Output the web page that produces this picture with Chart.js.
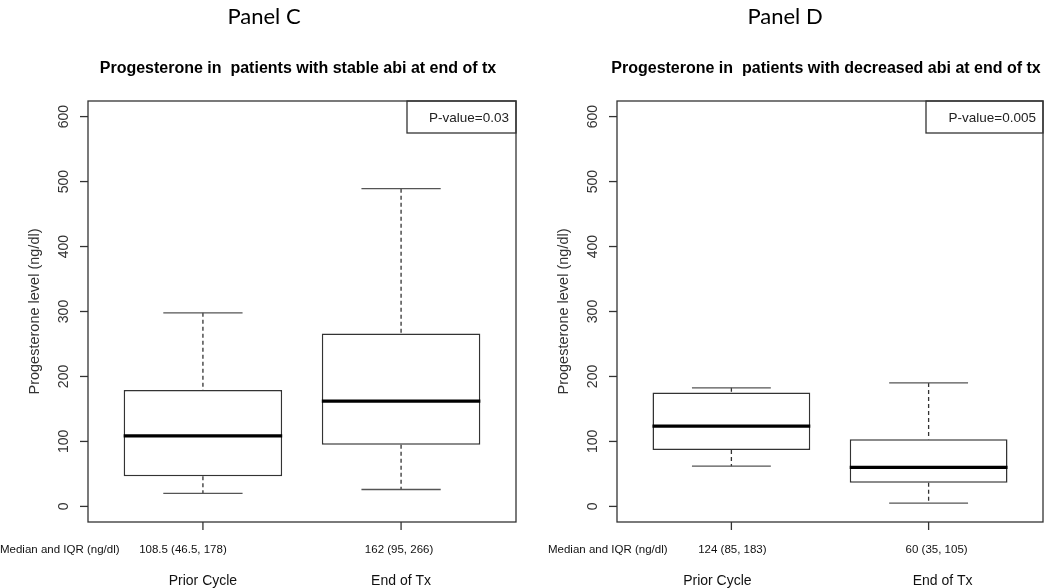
<!DOCTYPE html>
<html>
<head>
<meta charset="utf-8">
<script src="https://cdn.jsdelivr.net/npm/chart.js@4.4.1/dist/chart.umd.min.js"></script>
<style>
  html, body { margin: 0; padding: 0; background: #fff; }
  #wrap { position: relative; width: 1050px; height: 588px; overflow: hidden; }
  canvas { position: absolute; top: 0; }
  #chartC { left: 0; }
  #chartD { left: 525px; }
</style>
</head>
<body>
<div id="wrap">
  <canvas id="chartC" width="525" height="588"></canvas>
  <canvas id="chartD" width="525" height="588"></canvas>
</div>
<script>
  // categories and ticks
  const groups = ['Prior Cycle', 'End of Tx'];
  const yTicks = [0, 100, 200, 300, 400, 500, 600];

  // Panel C - stable abi
  const stableLow = [20, 26];
  const stableQ1 = [46.5, 95];
  const stableMedian = [108.5, 162];
  const stableQ3 = [179, 266];
  const stableHigh = [298, 489];
  const stableLabels = ['108.5 (46.5, 178)', '162 (95, 266)'];

  // Panel D - decreased abi
  const decLow = [62, 5];
  const decQ1 = [87, 36.5];
  const decMedian = [123.5, 60];
  const decQ3 = [175.5, 103.5];
  const decHigh = [182.5, 190];
  const decLabels = ['124 (85, 183)', '60 (35, 105)'];

  const FONT = '"Liberation Sans", Arial, sans-serif';
  const LINE = '#333';

  // draws whiskers, medians, frame, axes and texts the R way
  const rBoxplot = {
    id: 'rBoxplot',
    afterDatasetsDraw(chart, args, o) {
      const {ctx, chartArea: a, scales: {x, y}} = chart;
      ctx.save();

      // whiskers
      groups.forEach((g, i) => {
        const cx = x.getPixelForValue(i + 1);
        const capL = x.getPixelForValue(i + 1 - 0.2);
        const capR = x.getPixelForValue(i + 1 + 0.2);
        ctx.strokeStyle = LINE;
        ctx.lineWidth = 1.3;
        ctx.setLineDash([4, 3]);
        ctx.beginPath();
        ctx.moveTo(cx, y.getPixelForValue(o.high[i]));
        ctx.lineTo(cx, y.getPixelForValue(o.q3[i]));
        ctx.moveTo(cx, y.getPixelForValue(o.q1[i]));
        ctx.lineTo(cx, y.getPixelForValue(o.low[i]));
        ctx.stroke();
        ctx.setLineDash([]);
        ctx.strokeStyle = '#555';
        ctx.beginPath();
        ctx.moveTo(capL, y.getPixelForValue(o.high[i]));
        ctx.lineTo(capR, y.getPixelForValue(o.high[i]));
        ctx.moveTo(capL, y.getPixelForValue(o.low[i]));
        ctx.lineTo(capR, y.getPixelForValue(o.low[i]));
        ctx.stroke();
      });

      // medians
      groups.forEach((g, i) => {
        ctx.strokeStyle = '#000';
        ctx.lineWidth = 3.2;
        ctx.beginPath();
        ctx.moveTo(x.getPixelForValue(i + 1 - 0.4), y.getPixelForValue(o.median[i]));
        ctx.lineTo(x.getPixelForValue(i + 1 + 0.4), y.getPixelForValue(o.median[i]));
        ctx.stroke();
      });

      // frame
      ctx.strokeStyle = LINE;
      ctx.lineWidth = 1.3;
      ctx.strokeRect(a.left, a.top, a.width, a.height);

      // p-value box
      ctx.strokeRect(a.right - o.pWidth, a.top, o.pWidth, 32);
      ctx.fillStyle = '#222';
      ctx.font = '13.5px ' + FONT;
      ctx.textAlign = 'right';
      ctx.textBaseline = 'middle';
      ctx.fillText(o.pText, a.right - 7, a.top + 17);

      // y axis ticks and rotated labels
      ctx.strokeStyle = LINE;
      yTicks.forEach(v => {
        const py = y.getPixelForValue(v);
        ctx.beginPath();
        ctx.moveTo(a.left - 8, py);
        ctx.lineTo(a.left, py);
        ctx.stroke();
        ctx.save();
        ctx.translate(a.left - 24, py);
        ctx.rotate(-Math.PI / 2);
        ctx.textAlign = 'center';
        ctx.textBaseline = 'middle';
        ctx.fillStyle = '#333';
        ctx.font = '14px ' + FONT;
        ctx.fillText(String(v), 0, 0);
        ctx.restore();
      });

      // y axis title
      ctx.save();
      ctx.translate(a.left - 53, (a.top + a.bottom) / 2);
      ctx.rotate(-Math.PI / 2);
      ctx.textAlign = 'center';
      ctx.textBaseline = 'middle';
      ctx.fillStyle = '#333';
      ctx.font = '14.5px ' + FONT;
      ctx.fillText('Progesterone level (ng/dl)', 0, 0);
      ctx.restore();

      // x ticks, median/IQR row, group names
      ctx.textBaseline = 'middle';
      ctx.fillStyle = '#111';
      ctx.font = '11.5px ' + FONT;
      ctx.textAlign = 'left';
      ctx.fillText('Median and IQR (ng/dl)', a.left - o.medX, 550);
      groups.forEach((g, i) => {
        const cx = x.getPixelForValue(i + 1);
        ctx.beginPath();
        ctx.moveTo(cx, a.bottom);
        ctx.lineTo(cx, a.bottom + 8);
        ctx.stroke();
        ctx.textAlign = 'center';
        ctx.font = '11.5px ' + FONT;
        ctx.fillText(o.labels[i], cx + o.labelShift[i], 550);
        ctx.font = '14px ' + FONT;
        ctx.fillText(g, cx + o.groupShift[i], 581);
      });

      // chart title and panel name
      ctx.textAlign = 'center';
      ctx.fillStyle = '#000';
      ctx.font = 'bold 16px ' + FONT;
      ctx.fillText(o.title, (a.left + a.right) / 2 - 4, 69);
      ctx.font = '22px Lato, "Open Sans", sans-serif';
      ctx.fillText(o.panel, o.panelX, 17);

      ctx.restore();
    }
  };

  function makeChart(id, low, q1, median, q3, high, labels, extra, pad) {
    return new Chart(document.getElementById(id), {
      type: 'bar',
      data: {
        datasets: [{
          data: groups.map((g, i) => ({x: i + 1, y: [q1[i], q3[i]]})),
          backgroundColor: '#fff',
          borderColor: LINE,
          borderWidth: 1.5,
          borderSkipped: false,
          categoryPercentage: 1,
          barPercentage: 0.8
        }]
      },
      options: {
        responsive: false,
        animation: false,
        devicePixelRatio: 1,
        layout: {padding: pad},
        plugins: {
          legend: {display: false},
          tooltip: {enabled: false},
          rBoxplot: Object.assign({low, q1, median, q3, high, labels}, extra)
        },
        scales: {
          x: {
            type: 'linear', min: 0.42, max: 2.58, display: false, offset: false,
            afterBuildTicks: s => { s.ticks = [{value: 1}, {value: 2}]; }
          },
          y: {type: 'linear', min: -24, max: 624, display: false}
        }
      },
      plugins: [rBoxplot]
    });
  }

  makeChart('chartC', stableLow, stableQ1, stableMedian, stableQ3, stableHigh, stableLabels, {
    title: 'Progesterone in  patients with stable abi at end of tx',
    panel: 'Panel C', panelX: 264,
    pText: 'P-value=0.03', pWidth: 109,
    medX: 88, labelShift: [-20, -2], groupShift: [0, 0]
  }, {left: 88, right: 9, top: 101, bottom: 66});

  makeChart('chartD', decLow, decQ1, decMedian, decQ3, decHigh, decLabels, {
    title: 'Progesterone in  patients with decreased abi at end of tx',
    panel: 'Panel D', panelX: 260,
    pText: 'P-value=0.005', pWidth: 117,
    medX: 69, labelShift: [1, 8], groupShift: [-14, 14]
  }, {left: 92, right: 7, top: 101, bottom: 66});
</script>
</body>
</html>
